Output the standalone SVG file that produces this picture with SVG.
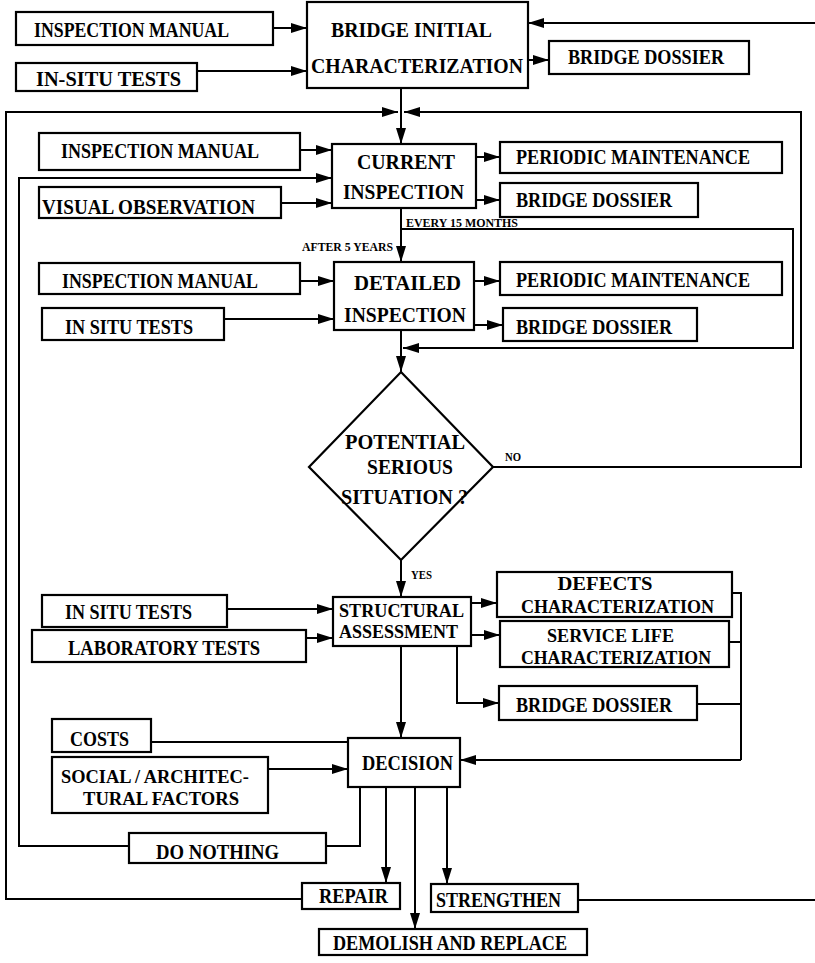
<svg xmlns="http://www.w3.org/2000/svg" width="815" height="963" viewBox="0 0 815 963">
<style>
  .box { fill: #ffffff; stroke: #000000; stroke-width: 2.2; }
  .ln { fill: none; stroke: #000000; stroke-width: 2; }
  .arr { fill: none; stroke: #000000; stroke-width: 2; marker-end: url(#head); }
  .t { font-family: "Liberation Serif", "Times New Roman", serif; font-weight: bold; font-size: 22px; fill: #000000; }
  .m { font-family: "Liberation Serif", "Times New Roman", serif; font-weight: bold; font-size: 19px; fill: #000000; }
  .d { font-family: "Liberation Serif", "Times New Roman", serif; font-weight: bold; font-size: 20px; fill: #000000; }
  .s { font-family: "Liberation Serif", "Times New Roman", serif; font-weight: bold; font-size: 13px; fill: #000000; }
</style>
<defs>
  <marker id="head" markerUnits="userSpaceOnUse" markerWidth="16" markerHeight="10" refX="16" refY="5" orient="auto">
    <path d="M0,0 L16,5 L0,10 Z" fill="#000000"/>
  </marker>
</defs>
<rect width="815" height="963" fill="#ffffff"/>

<!-- connectors -->
<g id="connectors">
  <path class="arr" d="M273,28 L307,28"/>
  <path class="arr" d="M197,71 L307,71"/>
  <path class="arr" d="M528,60 L549,60"/>
  <path class="arr" d="M815,23 L528,23"/>
  <path class="arr" d="M401,88 L401,144"/>
  <!-- outer loop: repair back to current inspection -->
  <path class="arr" d="M302,899 L6,899 L6,112 L398,112"/>
  <!-- "no" branch back to current inspection -->
  <path class="arr" d="M493,467 L801,467 L801,112 L404,112"/>
  <path class="arr" d="M300,150 L332,150"/>
  <!-- do nothing loop -->
  <path class="ln" d="M360,787 L360,846 L326,846"/>
  <path class="arr" d="M129,846 L19,846 L19,178 L332,178"/>
  <path class="arr" d="M281,203 L332,203"/>
  <path class="arr" d="M476,157 L500,157"/>
  <path class="arr" d="M476,200 L500,200"/>
  <path class="arr" d="M401,208 L401,262"/>
  <!-- every 15 months bypass -->
  <path class="arr" d="M401,229 L793,229 L793,348 L403,348"/>
  <path class="arr" d="M300,281 L334,281"/>
  <path class="arr" d="M224,319 L334,319"/>
  <path class="arr" d="M474,281 L500,281"/>
  <path class="arr" d="M474,325 L503,325"/>
  <path class="arr" d="M401,330 L401,372"/>
  <path class="arr" d="M401,560 L401,597"/>
  <path class="arr" d="M227,609 L333,609"/>
  <path class="arr" d="M306,638 L333,638"/>
  <path class="arr" d="M471,603 L497,603"/>
  <path class="arr" d="M471,635 L500,635"/>
  <path class="arr" d="M457,646 L457,703 L499,703"/>
  <path class="ln" d="M732,593 L741,593 L741,760"/>
  <path class="ln" d="M729,642 L741,642"/>
  <path class="ln" d="M697,704 L741,704"/>
  <path class="arr" d="M741,760 L460,760"/>
  <path class="arr" d="M401,646 L401,738"/>
  <path class="ln" d="M151,742 L348,742"/>
  <path class="arr" d="M268,769 L348,769"/>
  <path class="arr" d="M386,787 L386,883"/>
  <path class="arr" d="M415,787 L415,929"/>
  <path class="arr" d="M447,787 L447,884"/>
  <path class="ln" d="M578,900 L815,900"/>
</g>

<!-- initial characterization stage -->
<g id="n-manual-1"><rect class="box" x="16" y="12" width="257" height="33"/><text class="t" x="34" y="37" textLength="195" lengthAdjust="spacingAndGlyphs">INSPECTION MANUAL</text></g>
<g id="n-initial"><rect class="box" x="307" y="2" width="221" height="86"/><text class="t" x="331" y="37" textLength="161" lengthAdjust="spacingAndGlyphs">BRIDGE INITIAL</text><text class="t" x="311" y="73" textLength="212" lengthAdjust="spacingAndGlyphs">CHARACTERIZATION</text></g>
<g id="n-insitu-1"><rect class="box" x="16" y="63" width="181" height="28"/><text class="t" x="36" y="86" textLength="145" lengthAdjust="spacingAndGlyphs">IN-SITU TESTS</text></g>
<g id="n-dossier-1"><rect class="box" x="549" y="41" width="200" height="33"/><text class="t" x="568" y="64" textLength="156" lengthAdjust="spacingAndGlyphs">BRIDGE DOSSIER</text></g>

<!-- current inspection stage -->
<g id="n-manual-2"><rect class="box" x="39" y="133" width="261" height="37"/><text class="t" x="61" y="158" textLength="198" lengthAdjust="spacingAndGlyphs">INSPECTION MANUAL</text></g>
<g id="n-current"><rect class="box" x="332" y="144" width="144" height="64"/><text class="t" x="357" y="169" textLength="98" lengthAdjust="spacingAndGlyphs">CURRENT</text><text class="t" x="343" y="199" textLength="121" lengthAdjust="spacingAndGlyphs">INSPECTION</text></g>
<g id="n-maint-1"><rect class="box" x="500" y="142" width="282" height="31"/><text class="t" x="516" y="164" textLength="234" lengthAdjust="spacingAndGlyphs">PERIODIC MAINTENANCE</text></g>
<g id="n-dossier-2"><rect class="box" x="500" y="183" width="198" height="34"/><text class="t" x="516" y="207" textLength="156" lengthAdjust="spacingAndGlyphs">BRIDGE DOSSIER</text></g>
<g id="n-visual"><rect class="box" x="39" y="187" width="242" height="31"/><text class="t" x="42" y="214" textLength="213" lengthAdjust="spacingAndGlyphs">VISUAL OBSERVATION</text></g>
<text class="s" x="406" y="227" textLength="112" lengthAdjust="spacingAndGlyphs">EVERY 15 MONTHS</text>
<text class="s" x="302" y="251" textLength="91" lengthAdjust="spacingAndGlyphs">AFTER 5 YEARS</text>

<!-- detailed inspection stage -->
<g id="n-manual-3"><rect class="box" x="39" y="263" width="261" height="31"/><text class="t" x="62" y="288" textLength="196" lengthAdjust="spacingAndGlyphs">INSPECTION MANUAL</text></g>
<g id="n-detailed"><rect class="box" x="334" y="262" width="140" height="68"/><text class="t" x="354" y="290" textLength="107" lengthAdjust="spacingAndGlyphs">DETAILED</text><text class="t" x="344" y="322" textLength="122" lengthAdjust="spacingAndGlyphs">INSPECTION</text></g>
<g id="n-maint-2"><rect class="box" x="500" y="262" width="282" height="33"/><text class="t" x="516" y="287" textLength="234" lengthAdjust="spacingAndGlyphs">PERIODIC MAINTENANCE</text></g>
<g id="n-insitu-2"><rect class="box" x="42" y="308" width="182" height="32"/><text class="t" x="65" y="334" textLength="128" lengthAdjust="spacingAndGlyphs">IN SITU TESTS</text></g>
<g id="n-dossier-3"><rect class="box" x="503" y="308" width="194" height="33"/><text class="t" x="516" y="334" textLength="156" lengthAdjust="spacingAndGlyphs">BRIDGE DOSSIER</text></g>

<!-- decision diamond -->
<g id="n-serious"><polygon class="box" points="401,372 493,467 401,560 309,467"/><text class="d" x="345" y="449" textLength="120" lengthAdjust="spacingAndGlyphs">POTENTIAL</text><text class="d" x="367" y="474" textLength="86" lengthAdjust="spacingAndGlyphs">SERIOUS</text><text class="d" x="341" y="504" textLength="127" lengthAdjust="spacingAndGlyphs">SITUATION ?</text></g>
<text class="s" x="505" y="461" textLength="16" lengthAdjust="spacingAndGlyphs">NO</text>
<text class="s" x="411" y="579" textLength="21" lengthAdjust="spacingAndGlyphs">YES</text>

<!-- structural assessment stage -->
<g id="n-insitu-3"><rect class="box" x="42" y="595" width="185" height="32"/><text class="t" x="65" y="619" textLength="127" lengthAdjust="spacingAndGlyphs">IN SITU TESTS</text></g>
<g id="n-lab"><rect class="box" x="32" y="630" width="274" height="32"/><text class="t" x="68" y="655" textLength="192" lengthAdjust="spacingAndGlyphs">LABORATORY TESTS</text></g>
<g id="n-structural"><rect class="box" x="333" y="597" width="138" height="49"/><text class="m" x="339" y="617" textLength="125" lengthAdjust="spacingAndGlyphs">STRUCTURAL</text><text class="m" x="339" y="638" textLength="119" lengthAdjust="spacingAndGlyphs">ASSESSMENT</text></g>
<g id="n-defects"><rect class="box" x="497" y="572" width="235" height="45"/><text class="m" x="605" y="590" text-anchor="middle" textLength="95" lengthAdjust="spacingAndGlyphs">DEFECTS</text><text class="m" x="521" y="613" textLength="193" lengthAdjust="spacingAndGlyphs">CHARACTERIZATION</text></g>
<g id="n-service"><rect class="box" x="500" y="621" width="229" height="46"/><text class="m" x="547" y="642" textLength="127" lengthAdjust="spacingAndGlyphs">SERVICE LIFE</text><text class="m" x="521" y="664" textLength="190" lengthAdjust="spacingAndGlyphs">CHARACTERIZATION</text></g>
<g id="n-dossier-4"><rect class="box" x="499" y="686" width="198" height="34"/><text class="t" x="516" y="712" textLength="156" lengthAdjust="spacingAndGlyphs">BRIDGE DOSSIER</text></g>

<!-- decision stage -->
<g id="n-costs"><rect class="box" x="52" y="719" width="99" height="33"/><text class="t" x="70" y="746" textLength="59" lengthAdjust="spacingAndGlyphs">COSTS</text></g>
<g id="n-social"><rect class="box" x="52" y="757" width="216" height="56"/><text class="m" x="61" y="783" textLength="188" lengthAdjust="spacingAndGlyphs">SOCIAL / ARCHITEC-</text><text class="m" x="83" y="805" textLength="156" lengthAdjust="spacingAndGlyphs">TURAL FACTORS</text></g>
<g id="n-decision"><rect class="box" x="348" y="738" width="112" height="49"/><text class="t" x="362" y="770" textLength="91" lengthAdjust="spacingAndGlyphs">DECISION</text></g>
<g id="n-nothing"><rect class="box" x="129" y="833" width="197" height="30"/><text class="t" x="156" y="859" textLength="123" lengthAdjust="spacingAndGlyphs">DO NOTHING</text></g>
<g id="n-repair"><rect class="box" x="302" y="883" width="98" height="26"/><text class="t" x="319" y="903" textLength="69" lengthAdjust="spacingAndGlyphs">REPAIR</text></g>
<g id="n-strengthen"><rect class="box" x="431" y="884" width="147" height="28"/><text class="t" x="436" y="907" textLength="125" lengthAdjust="spacingAndGlyphs">STRENGTHEN</text></g>
<g id="n-demolish"><rect class="box" x="319" y="929" width="268" height="26"/><text class="t" x="333" y="950" textLength="234" lengthAdjust="spacingAndGlyphs">DEMOLISH AND REPLACE</text></g>
</svg>
